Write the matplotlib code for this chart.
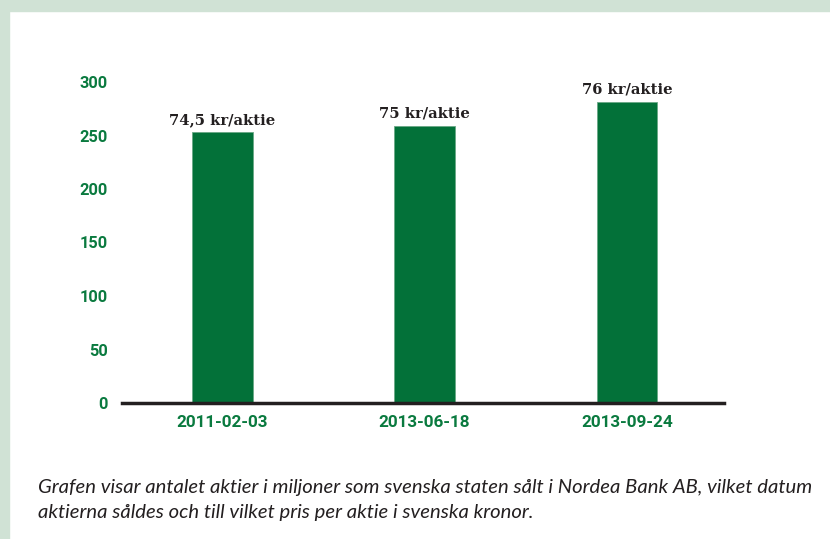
import matplotlib.pyplot as plt
from matplotlib.patches import Rectangle

dates = ["2011-02-03", "2013-06-18", "2013-09-24"]
shares_million = [253, 259, 281]
price_labels = ["74,5 kr/aktie", "75 kr/aktie", "76 kr/aktie"]
y_ticks = [0, 50, 100, 150, 200, 250, 300]
caption = ("Grafen visar antalet aktier i miljoner som svenska staten sålt i Nordea Bank AB, vilket datum\n"
           "aktierna såldes och till vilket pris per aktie i svenska kronor.")

green = "#037139"
tick_green = "#0a7a3f"
border = "#d0e2d5"

fig = plt.figure(figsize=(8.3, 5.39), dpi=100)
fig.patch.set_facecolor("white")

# light green frame on the left and top
fig.patches.append(Rectangle((0, 0), 9 / 830, 1, transform=fig.transFigure,
                             color=border, zorder=0))
fig.patches.append(Rectangle((0, 1 - 11 / 539), 1, 11 / 539, transform=fig.transFigure,
                             color=border, zorder=0))

ax = fig.add_axes([122 / 830, 1 - 403 / 539, (724 - 122) / 830, (403 - 82) / 539])
x = range(len(dates))
bars = ax.bar(x, shares_million, width=0.3, color=green, edgecolor="#6aa886",
              linewidth=0.6)

for b, lab in zip(bars, price_labels):
    ax.text(b.get_x() + b.get_width() / 2, b.get_height() + 5, lab,
            ha="center", va="bottom", fontsize=10.6, fontweight="bold",
            family="DejaVu Serif", color="#231f20", clip_on=False)

ax.set_xlim(-0.495, 2.48)
ax.set_ylim(0, 300)
ax.set_yticks(y_ticks)
ax.set_xticks(list(x))
ax.set_xticklabels(dates)

for lab in ax.get_yticklabels():
    lab.set_fontsize(11.8)
for lab in ax.get_xticklabels():
    lab.set_fontsize(12.3)
for lab in ax.get_yticklabels() + ax.get_xticklabels():
    lab.set_color(tick_green)
    lab.set_fontweight("bold")
    lab.set_family("Roboto")

ax.tick_params(axis="y", length=0, pad=10)
ax.tick_params(axis="x", length=0, pad=8.5)
for side in ("left", "right", "top"):
    ax.spines[side].set_visible(False)
ax.spines["bottom"].set_linewidth(2.5)
ax.spines["bottom"].set_color("#231f20")
ax.set_facecolor("white")

fig.text(38 / 830, 1 - 479 / 539, caption, ha="left", va="top",
         fontsize=14.6, style="italic", family="Lato", color="#231f20",
         linespacing=1.6)

fig.savefig("out.png", dpi=100, facecolor="white")
